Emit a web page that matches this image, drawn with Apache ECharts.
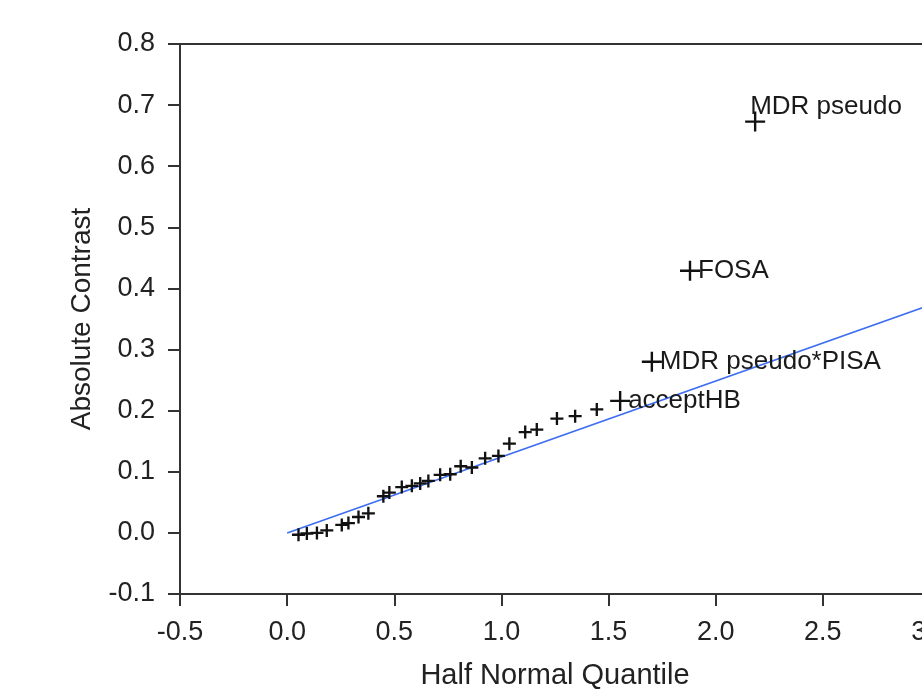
<!DOCTYPE html>
<html>
<head>
<meta charset="utf-8">
<script src="https://cdn.jsdelivr.net/npm/echarts@6/dist/echarts.min.js"></script>
<style>
  html, body { margin: 0; padding: 0; background: #fff; }
  #main { width: 922px; height: 689px; }
</style>
</head>
<body>
<div id="main"></div>
<script>
// half normal quantile vs absolute contrast, unlabeled effects
var quantiles = [0.053, 0.092, 0.139, 0.185, 0.255, 0.286, 0.333, 0.379,
  0.449, 0.477, 0.535, 0.582, 0.621, 0.659, 0.714, 0.761, 0.810, 0.862,
  0.924, 0.986, 1.037, 1.111, 1.165, 1.259, 1.344, 1.445];
var contrasts = [-0.003, -0.001, 0.000, 0.004, 0.013, 0.016, 0.026, 0.032,
  0.060, 0.066, 0.075, 0.077, 0.081, 0.085, 0.095, 0.096, 0.109, 0.107,
  0.122, 0.126, 0.146, 0.165, 0.169, 0.187, 0.191, 0.202];

// labeled effects
var namedQuantiles = [1.554, 1.702, 1.880, 2.184];
var namedContrasts = [0.216, 0.280, 0.429, 0.673];
var effectNames = ['acceptHB', 'MDR pseudo*PISA', 'FOSA', 'MDR pseudo'];

// reference line
var lineX = [0, 3.0];
var lineY = [0, 0.373];

var FONT = '"Liberation Sans", Arial, sans-serif';
var smallPlus = 'path://M41,0H59V41H100V59H59V100H41V59H0V41H41Z';
var bigPlus = 'path://M44,0H56V44H100V56H56V100H44V56H0V44H44Z';

var chart = echarts.init(document.getElementById('main'));

var smallData = quantiles.map(function (q, i) { return [q, contrasts[i]]; });
var namedData = namedQuantiles.map(function (q, i) {
  var item = { name: effectNames[i], value: [q, namedContrasts[i]] };
  if (i === namedQuantiles.length - 1) {
    item.label = { offset: [-15, -15] };
  }
  return item;
});
var lineData = lineX.map(function (x, i) { return [x, lineY[i]]; });

chart.setOption({
  animation: false,
  grid: {
    left: 180,
    top: 44,
    width: 750,
    height: 550,
    show: true,
    borderColor: '#333',
    borderWidth: 2,
    containLabel: false,
    outerBoundsMode: 'none'
  },
  xAxis: {
    type: 'value',
    min: -0.5,
    max: 3.0,
    interval: 0.5,
    name: 'Half Normal Quantile',
    nameLocation: 'middle',
    nameGap: 67,
    nameTextStyle: { fontFamily: FONT, fontSize: 29, color: '#222' },
    axisLine: { show: true, onZero: false, lineStyle: { color: '#333', width: 2 } },
    axisTick: { show: true, length: 12, lineStyle: { color: '#333', width: 2 } },
    axisLabel: {
      margin: 25,
      fontFamily: FONT,
      fontSize: 27,
      color: '#222',
      formatter: function (v) { return v.toFixed(1); }
    },
    splitLine: { show: false }
  },
  yAxis: {
    type: 'value',
    min: -0.1,
    max: 0.8,
    interval: 0.1,
    name: 'Absolute Contrast',
    nameLocation: 'middle',
    nameGap: 84,
    nameTextStyle: { fontFamily: FONT, fontSize: 28, color: '#222' },
    axisLine: { show: true, onZero: false, lineStyle: { color: '#333', width: 2 } },
    axisTick: { show: true, length: 12, lineStyle: { color: '#333', width: 2 } },
    axisLabel: {
      margin: 25,
      fontFamily: FONT,
      fontSize: 27,
      color: '#222',
      formatter: function (v) { return v.toFixed(1); }
    },
    splitLine: { show: false }
  },
  series: [
    {
      type: 'line',
      data: lineData,
      showSymbol: false,
      silent: true,
      lineStyle: { color: '#3d6ef2', width: 1.6 },
      z: 1
    },
    {
      type: 'scatter',
      data: smallData,
      symbol: smallPlus,
      symbolSize: 13,
      itemStyle: { color: '#111', opacity: 1 },
      z: 2
    },
    {
      type: 'scatter',
      data: namedData,
      symbol: bigPlus,
      symbolSize: 20,
      itemStyle: { color: '#111', opacity: 1 },
      label: {
        show: true,
        position: 'right',
        distance: 0,
        offset: [-2, 0],
        formatter: '{b}',
        fontFamily: FONT,
        fontSize: 26,
        color: '#1a1a1a'
      },
      z: 3
    }
  ]
});
</script>
</body>
</html>
